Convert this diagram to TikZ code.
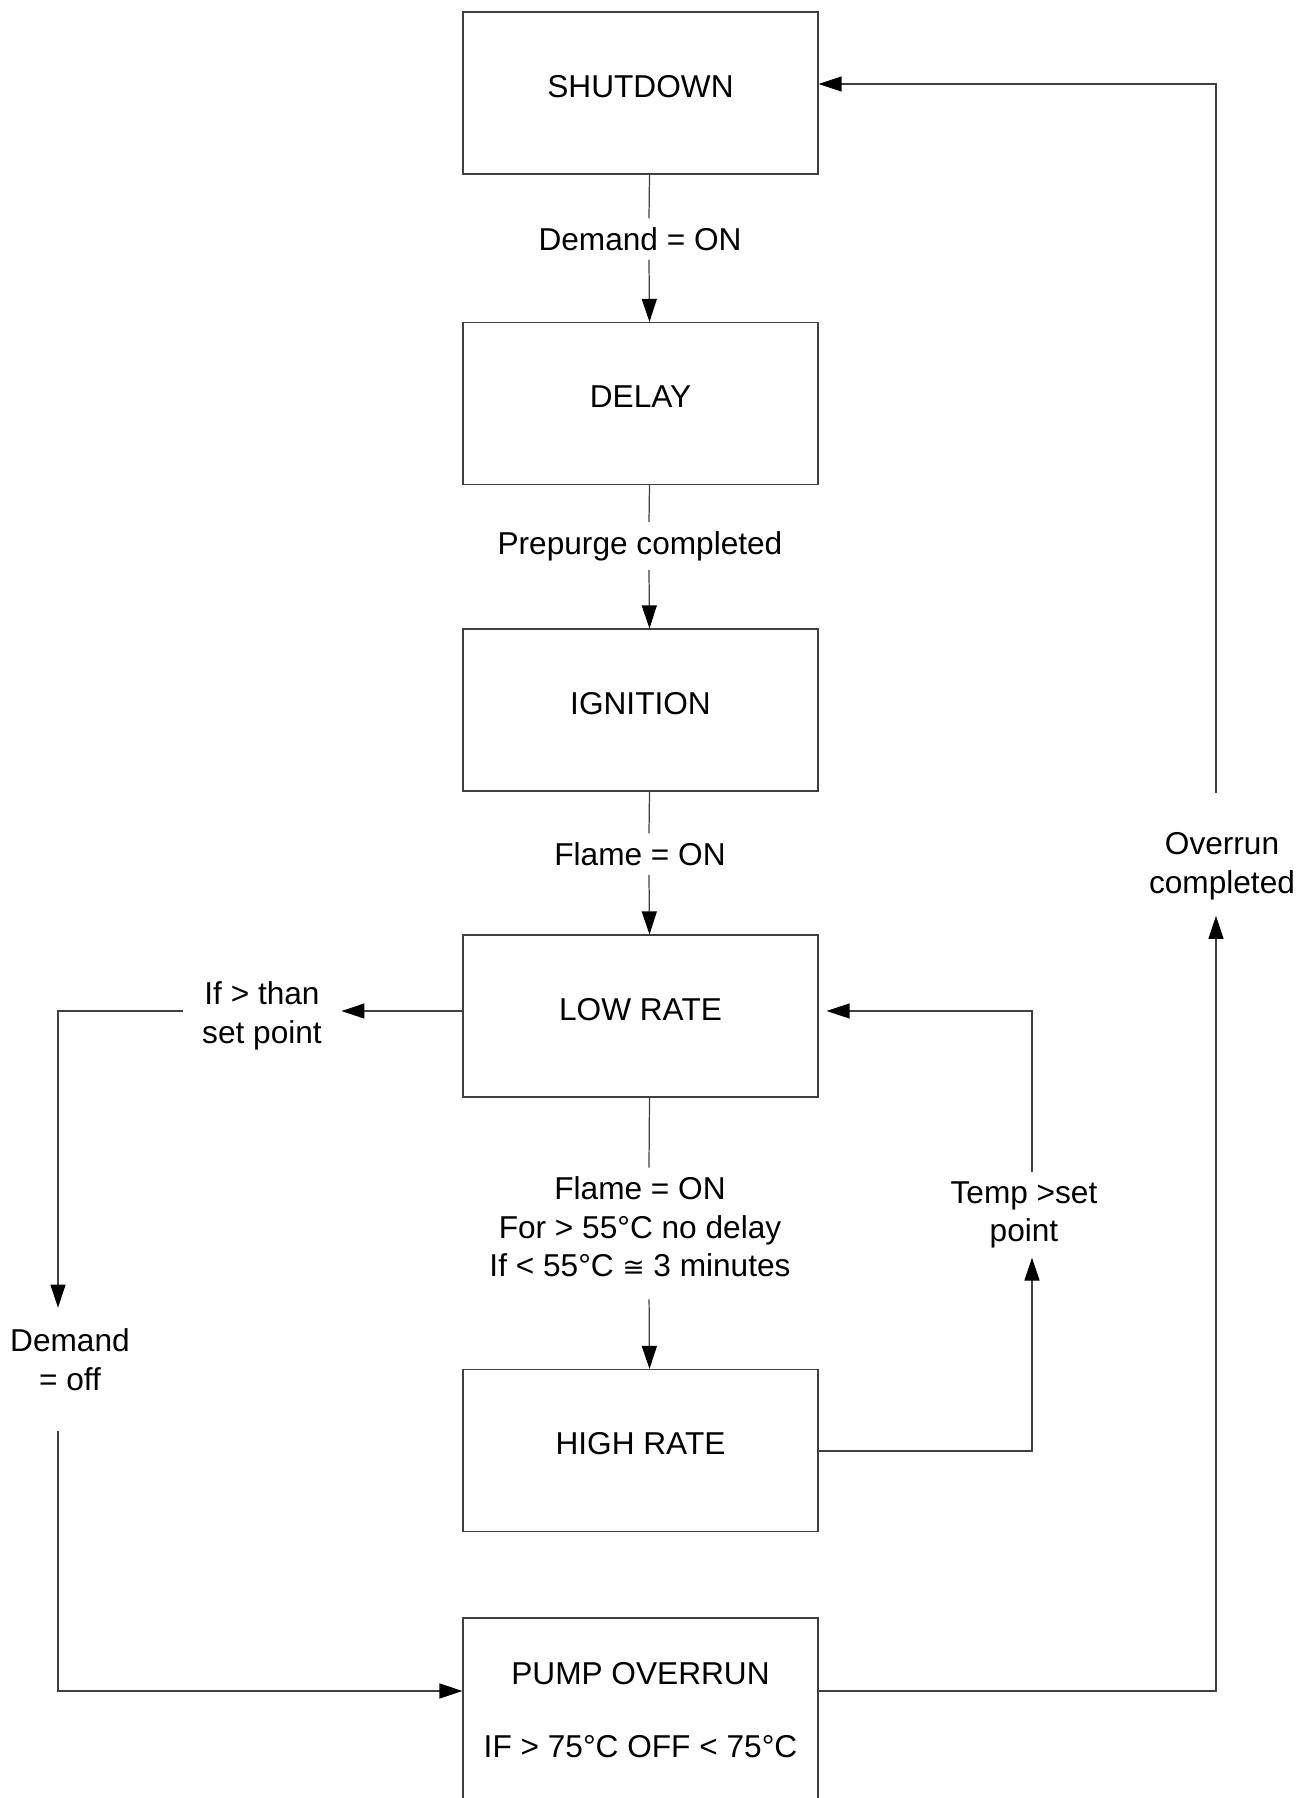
\documentclass[tikz,border=0pt]{standalone}
\usepackage{fontspec}
\setmainfont{Liberation Sans}
\newfontfamily\dvsans{DejaVu Sans}
\usetikzlibrary{arrows.meta}
\definecolor{wire}{HTML}{404040}
\tikzset{
  state/.style={draw=wire, line width=0.7pt, minimum width=7.1cm, minimum height=3.24cm, inner sep=0pt, font=\fontsize{18}{22}\selectfont},
  st/.style={state, text height=13pt, text depth=8pt},
  lbl/.style={align=center, inner sep=5pt, font=\fontsize{18}{22}\selectfont},
  w/.style={draw=wire, line width=0.7pt},
  a/.style={w, -{Triangle[length=0.46cm, width=0.3cm, color=black]}},
}

\begin{document}
\begin{tikzpicture}[x=0.02cm, y=-0.02cm]
  \useasboundingbox (0,0) rectangle (1299,1798);

  % states
  \node[st] (shutdown) at (640.5, 93) {SHUTDOWN};
  \node[st] (delay) at (640.5, 403.5) {DELAY};
  \node[st] (ignition) at (640.5, 710) {IGNITION};
  \node[st] (lowrate) at (640.5, 1016) {LOW RATE};
  \node[st] (highrate) at (640.5, 1450.5) {HIGH RATE};
  \node[state, align=center, minimum height=3.68cm] (pump) at (640.5, 1710) {PUMP OVERRUN\\[20pt]IF > 75°C OFF < 75°C};

  % transition labels
  \node[lbl] (dem) at (640, 239) {Demand = ON};
  \node[lbl] (prep) at (640, 546) {Prepurge completed};
  \node[lbl] (flon) at (640, 854) {Flame = ON};
  \node[lbl] (flrate) at (640, 1227) {Flame = ON\\For > 55°C no delay\\If < 55°C {\dvsans\fontsize{15}{22}\selectfont ≅} 3 minutes};
  \node[lbl, inner xsep=11pt] (ifgt) at (262, 1016) {If > than\\set point};
  \node[lbl, inner ysep=12pt] (dmoff) at (70, 1360) {Demand\\= off};
  \node[lbl] (temp) at (1024, 1215) {Temp >set\\point};
  \node[lbl, inner ysep=9pt] (over) at (1222, 866) {Overrun\\completed};

  % bends
  \coordinate (lbend) at (58, 1011);
  \coordinate (lfoot) at (58, 1691);
  \coordinate (rbend) at (1032, 1451);
  \coordinate (rfoot) at (1216, 1691);
  \coordinate (rtop) at (1216, 84);

  % main chain
  \draw[w] ([xshift=0.18cm]shutdown.south) -- ([xshift=0.18cm]dem.north);
  \draw[a] ([xshift=0.18cm]dem.south) -- ([xshift=0.18cm]delay.north);
  \draw[w] ([xshift=0.18cm]delay.south) -- ([xshift=0.18cm]prep.north);
  \draw[a] ([xshift=0.18cm]prep.south) -- ([xshift=0.18cm]ignition.north);
  \draw[w] ([xshift=0.18cm]ignition.south) -- ([xshift=0.18cm]flon.north);
  \draw[a] ([xshift=0.18cm]flon.south) -- ([xshift=0.18cm]lowrate.north);
  \draw[w] ([xshift=0.18cm]lowrate.south) -- ([xshift=0.18cm]flrate.north);
  \draw[a, shorten <=0.26cm] ([xshift=0.18cm]flrate.south) -- ([xshift=0.18cm]highrate.north);

  % left loop
  \draw[a] (lowrate.west |- lbend) -- (ifgt.east |- lbend);
  \draw[a] (ifgt.west |- lbend) -- (lbend) -- (lbend |- dmoff.north);
  \draw[a, shorten <=0.38cm] (lbend |- dmoff.south) -- (lfoot) -- (lfoot -| pump.west);

  % high rate back to low rate
  \draw[a] (highrate.east |- rbend) -- (rbend) -- (rbend |- temp.south);
  \draw[a] (rbend |- temp.north) -- (rbend |- lbend) -- ([xshift=0.16cm]lowrate.east |- lbend);

  % overrun back to shutdown
  \draw[a] (pump.east |- lfoot) -- (rfoot) -- (rfoot |- over.south);
  \draw[a, shorten <=0.46cm] (rfoot |- over.north) -- (rtop) -- (rtop -| shutdown.east);
\end{tikzpicture}
\end{document}
